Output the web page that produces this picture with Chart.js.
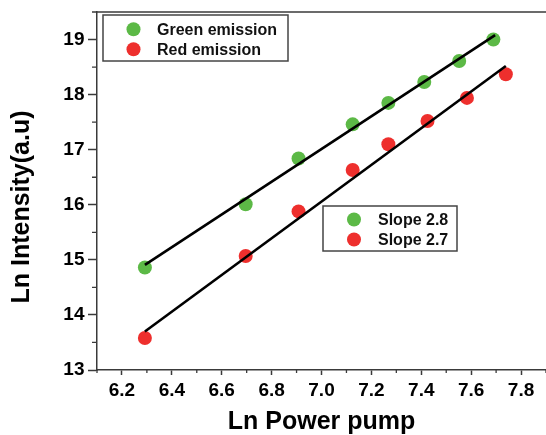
<!DOCTYPE html>
<html>
<head>
<meta charset="utf-8">
<script src="https://cdn.jsdelivr.net/npm/chart.js@4/dist/chart.umd.min.js"></script>
<style>
html,body{margin:0;padding:0;background:#fff;overflow:hidden;}
#wrap{width:546px;height:435px;}
</style>
</head>
<body>
<div id="wrap"><canvas id="c" width="546" height="435"></canvas></div>
<script>
// ---- data ----
const greenX = [6.292, 6.696, 6.908, 7.125, 7.268, 7.412, 7.552, 7.689];
const greenY = [14.86, 16.01, 16.84, 17.46, 17.85, 18.23, 18.61, 19.00];
const redX   = [6.292, 6.696, 6.908, 7.125, 7.268, 7.425, 7.583, 7.739];
const redY   = [13.58, 15.07, 15.88, 16.63, 17.10, 17.52, 17.94, 18.37];
const greenFitX = [6.292, 7.696];
const greenFitY = [14.91, 19.08];
const redFitX   = [6.292, 7.739];
const redFitY   = [13.70, 18.52];
const xTicks = [6.2, 6.4, 6.6, 6.8, 7.0, 7.2, 7.4, 7.6, 7.8];
const yTicks = [13, 14, 15, 16, 17, 18, 19];
const xMinor = [6.1, 6.3, 6.5, 6.7, 6.9, 7.1, 7.3, 7.5, 7.7, 7.9];
const yMinor = [13.5, 14.5, 15.5, 16.5, 17.5, 18.5, 19.5];
const legend1Labels = ['Green emission', 'Red emission'];
const legend2Labels = ['Slope 2.8', 'Slope 2.7'];
const xTitle = 'Ln Power pump';
const yTitle = 'Ln Intensity(a.u)';

const GREEN = '#5cb946';
const RED = '#ee2f2d';
const AXIS = '#3a3a3a';
const FONT = "'Liberation Sans', Arial, sans-serif";

const pts = (xs, ys) => xs.map((x, i) => ({x: x, y: ys[i]}));

const framePlugin = {
  id: 'frame',
  afterDraw(chart) {
    const ctx = chart.ctx;
    const a = chart.chartArea;
    const xs = chart.scales.x, ys = chart.scales.y;
    ctx.save();
    // top border
    ctx.strokeStyle = AXIS;
    ctx.lineWidth = 1.5;
    ctx.beginPath();
    ctx.moveTo(a.left, a.top);
    ctx.lineTo(a.right + 2, a.top);
    ctx.stroke();
    // minor ticks
    ctx.lineWidth = 1.3;
    ctx.beginPath();
    xMinor.forEach(v => {
      const px = xs.getPixelForValue(v);
      ctx.moveTo(px, a.bottom);
      ctx.lineTo(px, a.bottom + 3);
    });
    yMinor.forEach(v => {
      const py = ys.getPixelForValue(v);
      ctx.moveTo(a.left, py);
      ctx.lineTo(a.left - 5, py);
    });
    ctx.stroke();

    // y title (rotated)
    ctx.fillStyle = '#000';
    ctx.font = 'bold 25px ' + FONT;
    ctx.textAlign = 'center';
    ctx.textBaseline = 'middle';
    ctx.translate(a.left - 75, (a.top + a.bottom) / 2 + 16);
    ctx.rotate(-Math.PI / 2);
    ctx.fillText(yTitle, 0, 0);
    ctx.restore();

    // legends
    const drawLegend = (bx, by, bw, bh, labels, dotDx, textDx, rows) => {
      ctx.save();
      ctx.fillStyle = '#fff';
      ctx.fillRect(bx, by, bw, bh);
      ctx.strokeStyle = '#444';
      ctx.lineWidth = 1.5;
      ctx.strokeRect(bx, by, bw, bh);
      ctx.font = 'bold 16px ' + FONT;
      ctx.textAlign = 'left';
      ctx.textBaseline = 'middle';
      [GREEN, RED].forEach((col, i) => {
        ctx.fillStyle = col;
        ctx.beginPath();
        ctx.arc(bx + dotDx, by + rows[i], 7, 0, Math.PI * 2);
        ctx.fill();
        ctx.fillStyle = '#111';
        ctx.fillText(labels[i], bx + textDx, by + rows[i] + 1);
      });
      ctx.restore();
    };
    drawLegend(a.left + 6, a.top + 3, 185, 46, legend1Labels, 30.5, 54, [14.3, 34.3]);
    drawLegend(a.left + 226, a.top + 194, 134, 45, legend2Labels, 31, 55, [13.5, 33.5]);
  }
};

new Chart(document.getElementById('c'), {
  type: 'scatter',
  data: {
    datasets: [
      {label: 'Green fit', data: pts(greenFitX, greenFitY), showLine: true, borderColor: '#000', borderWidth: 2.6, pointRadius: 0, order: 0},
      {label: 'Red fit', data: pts(redFitX, redFitY), showLine: true, borderColor: '#000', borderWidth: 2.6, pointRadius: 0, order: 0},
      {label: legend1Labels[0], data: pts(greenX, greenY), backgroundColor: GREEN, borderWidth: 0, pointRadius: 7, order: 1},
      {label: legend1Labels[1], data: pts(redX, redY), backgroundColor: RED, borderWidth: 0, pointRadius: 7, order: 1}
    ]
  },
  options: {
    responsive: false,
    animation: false,
    layout: {autoPadding: false, padding: {top: 12, right: 0, left: 0, bottom: 0}},
    plugins: {legend: {display: false}, tooltip: {enabled: false}},
    scales: {
      x: {
        type: 'linear', min: 6.1, max: 7.9,
        afterBuildTicks: s => { s.ticks = xTicks.map(v => ({value: v})); },
        afterFit: s => { s.height = 65; s.paddingLeft = 0; s.paddingRight = 0; },
        ticks: {
          callback: v => Number(v).toFixed(1),
          color: '#000', padding: 4.5,
          font: {family: FONT, size: 19, weight: 'bold'}
        },
        grid: {drawOnChartArea: false, tickLength: 5, tickColor: AXIS, tickWidth: 1.5},
        border: {color: AXIS, width: 1.5},
        title: {display: true, text: xTitle, color: '#000', padding: {top: 0, bottom: 0.5},
                font: {family: FONT, size: 25, weight: 'bold', lineHeight: 1}}
      },
      y: {
        type: 'linear', min: 13, max: 19.5,
        afterBuildTicks: s => { s.ticks = yTicks.map(v => ({value: v})); },
        afterFit: s => { s.width = 97; s.paddingTop = 0; s.paddingBottom = 0; },
        ticks: {
          color: '#000', padding: 3.5,
          font: {family: FONT, size: 19, weight: 'bold'}
        },
        grid: {drawOnChartArea: false, tickLength: 9, tickColor: AXIS, tickWidth: 1.5},
        border: {color: AXIS, width: 1.5}
      }
    }
  },
  plugins: [framePlugin]
});
</script>
</body>
</html>
